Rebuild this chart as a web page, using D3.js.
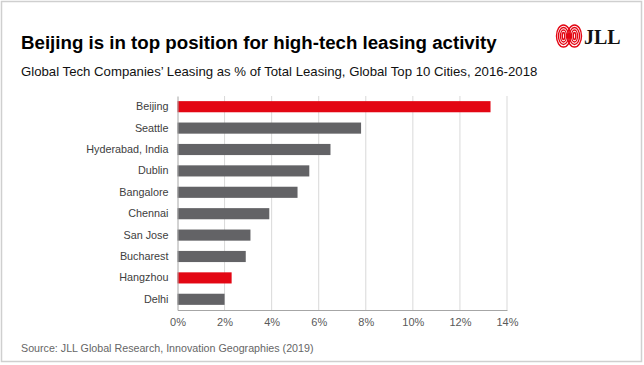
<!DOCTYPE html>
<html><head><meta charset="utf-8">
<script src="https://cdn.jsdelivr.net/npm/d3@7"></script>
<style>html,body{margin:0;padding:0;background:#fff;}svg{display:block;font-family:"Liberation Sans",Arial,sans-serif;}</style>
</head><body><svg id="c" width="644" height="365"></svg>
<script>
const cities = ["Beijing","Seattle","Hyderabad, India","Dublin","Bangalore","Chennai","San Jose","Bucharest","Hangzhou","Delhi"];
const values = [13.3,7.8,6.5,5.6,5.1,3.9,3.1,2.9,2.3,2.0];
const highlighted = ["Beijing","Hangzhou"];
const ticks = [0,2,4,6,8,10,12,14];
const title = "Beijing is in top position for high-tech leasing activity";
const subtitle = "Global Tech Companies\u2019 Leasing as % of Total Leasing, Global Top 10 Cities, 2016-2018";
const source = "Source: JLL Global Research, Innovation Geographies (2019)";

const svg = d3.select("#c");
svg.append("rect").attr("x",1.5).attr("y",1.5).attr("width",640).attr("height",360)
  .attr("fill","#fff").attr("stroke","#cfcfcf").attr("stroke-width",1.5);

svg.append("text").attr("x",21).attr("y",49).attr("font-size",18.7).attr("font-weight","bold")
  .attr("fill","#000").text(title);
svg.append("text").attr("x",21).attr("y",76).attr("font-size",13.2).attr("fill","#111").text(subtitle);
svg.append("text").attr("x",21).attr("y",352).attr("font-size",10.7).attr("fill","#666").text(source);

// logo
const logo = svg.append("g");
const lc = [[563.5,36],[574.5,36]];
[[7,11],[5,8.5],[3,6],[1.2,3.5]].forEach(([rx,ry])=>{
  lc.forEach(([cx,cy])=>{
    logo.append("ellipse").attr("cx",cx).attr("cy",cy).attr("rx",rx).attr("ry",ry)
      .attr("fill","none").attr("stroke","#e30613").attr("stroke-width",1.4);
  });
});
logo.append("text").attr("x",584).attr("y",44).attr("font-family","'Liberation Serif','DejaVu Serif',serif")
  .attr("font-weight","bold").attr("font-size",20).attr("fill","#111").text("JLL");

const m = {l:177.5, r:507, t:96, b:310};
const x = d3.scaleLinear().domain([0,14]).range([m.l,m.r]);
const y = d3.scaleBand().domain(cities).range([m.t,m.b]).paddingInner(0.48).paddingOuter(0.24);

svg.append("g").selectAll("line").data(ticks.slice(1)).join("line")
  .attr("x1",d=>x(d)).attr("x2",d=>x(d)).attr("y1",m.t).attr("y2",m.b)
  .attr("stroke","#d9d9d9").attr("stroke-width",1);

svg.append("g").selectAll("rect").data(cities).join("rect")
  .attr("x",x(0)).attr("y",d=>y(d)).attr("height",y.bandwidth())
  .attr("width",(d,i)=>x(values[i])-x(0))
  .attr("fill",d=>highlighted.includes(d)?"#e30613":"#636366");

const xa = svg.append("g").attr("transform",`translate(0,${m.b})`)
  .call(d3.axisBottom(x).tickValues(ticks).tickFormat(d=>d+"%").tickSize(0).tickPadding(8));
xa.select(".domain").attr("stroke","#a6a6a6");
xa.selectAll("text").attr("font-size",11).attr("fill","#595959").attr("font-family","'Liberation Sans',Arial,sans-serif");

const ya = svg.append("g").attr("transform",`translate(${m.l},0)`)
  .call(d3.axisLeft(y).tickSize(0).tickPadding(9));
ya.select(".domain").attr("stroke","#a6a6a6");
ya.selectAll("text").attr("font-size",10.8).attr("fill","#404040").attr("font-family","'Liberation Sans',Arial,sans-serif");
</script></body></html>
